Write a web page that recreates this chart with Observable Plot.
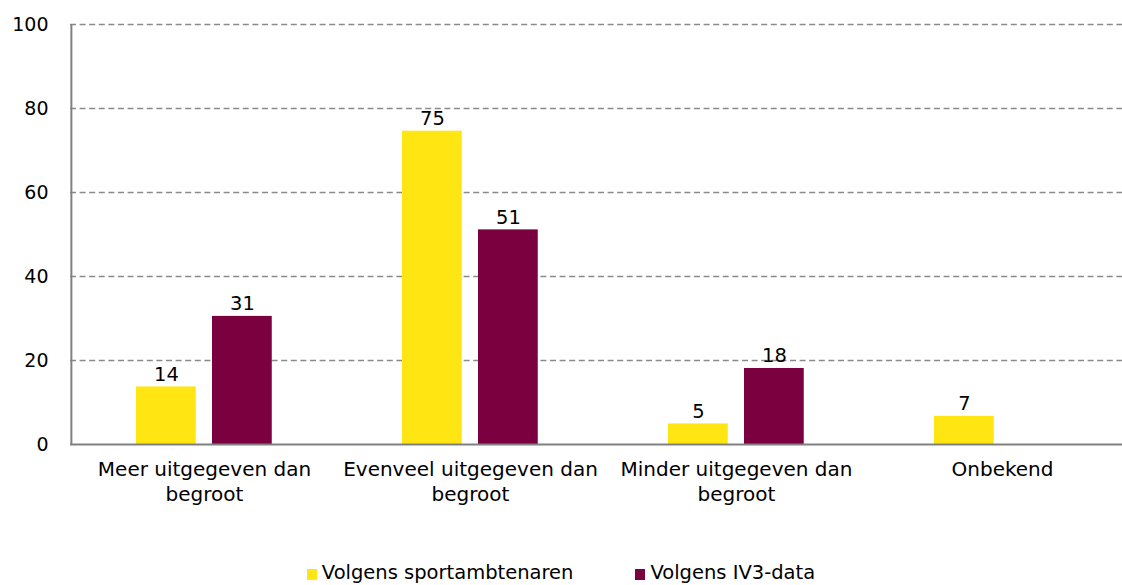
<!DOCTYPE html>
<html>
<head>
<meta charset="utf-8">
<script src="https://cdn.jsdelivr.net/npm/d3@7"></script>
<script src="https://cdn.jsdelivr.net/npm/@observablehq/plot@0.6"></script>
<style>
  html, body { margin: 0; padding: 0; background: #fff; }
  body { width: 1122px; height: 585px; overflow: hidden; font-family: "DejaVu Sans", sans-serif; }
  #legend { display: flex; justify-content: center; gap: 62px; margin-top: 42px; font-size: 19.5px; color: #000; line-height: 22px; padding-left: 0px; }
  #legend .item { display: flex; align-items: center; }
  #legend .sw { width: 10px; height: 11px; margin-right: 5px; margin-top: 2px; }
</style>
</head>
<body>
<div id="chart"></div>
<div id="legend"></div>
<script>
const categories = ["Meer uitgegeven dan begroot", "Evenveel uitgegeven dan begroot", "Minder uitgegeven dan begroot", "Onbekend"];
const categoryLabels = ["Meer uitgegeven dan\nbegroot", "Evenveel uitgegeven dan\nbegroot", "Minder uitgegeven dan\nbegroot", "Onbekend"];
const seriesNames = ["Volgens sportambtenaren", "Volgens IV3-data"];
const sportambtenaren = [13.7, 74.6, 4.9, 6.7];
const iv3 = [30.5, 51.1, 18.1, null];
const seriesColors = ["#FFE512", "#7A003F"];
const yTicks = [0, 20, 40, 60, 80, 100];

const rows = [];
categories.forEach((c, i) => {
  rows.push({category: c, series: seriesNames[0], value: sportambtenaren[i]});
  if (iv3[i] != null) rows.push({category: c, series: seriesNames[1], value: iv3[i]});
});
const s0 = rows.filter(d => d.series === seriesNames[0]);
const s1 = rows.filter(d => d.series === seriesNames[1]);
const labelOf = new Map(categories.map((c, i) => [c, categoryLabels[i]]));

const band = (1135 - 70) / categories.length;

const chart = Plot.plot({
  width: 1122,
  height: 520,
  marginLeft: 70,
  marginRight: 0,
  marginTop: 24,
  marginBottom: 76,
  style: {fontFamily: "DejaVu Sans, sans-serif", fontSize: "19.5px", color: "#000", background: "#fff"},
  x: {domain: categories, padding: 0, range: [70, 1135], axis: null, label: null},
  y: {domain: [0, 100], axis: null, label: null},
  marks: [
    Plot.ruleY(yTicks.filter(t => t > 0), {stroke: "#8a8a8a", strokeWidth: 1.5, strokeDasharray: "6,3.6"}),
    Plot.barY(s0, {x: "category", y: "value", fill: seriesColors[0], insetLeft: 65, insetRight: band - 125}),
    Plot.barY(s1, {x: "category", y: "value", fill: seriesColors[1], insetLeft: 141, insetRight: band - 201}),
    Plot.text(s0, {x: "category", y: "value", text: d => String(Math.round(d.value)), dx: 95 - band / 2, dy: -6, lineAnchor: "bottom", fill: "#000", fontSize: 19.5}),
    Plot.text(s1, {x: "category", y: "value", text: d => String(Math.round(d.value)), dx: 171 - band / 2, dy: -6, lineAnchor: "bottom", fill: "#000", fontSize: 19.5}),
    Plot.ruleY([0], {stroke: "#808080", strokeWidth: 2}),
    Plot.ruleX([categories[0]], {x: d => d, y1: 0, y2: 100, dx: -band / 2, stroke: "#808080", strokeWidth: 2}),
    Plot.axisY({ticks: yTicks, tickSize: 0, tickPadding: 22, fontSize: 19, fill: "#000", anchor: "left", label: null}),
    Plot.axisX({tickSize: 0, tickPadding: 14, tickFormat: d => labelOf.get(d), lineHeight: 1.25, fontSize: 20, fill: "#000", lineAnchor: "top", label: null})
  ]
});
document.getElementById("chart").appendChild(chart);

const legend = document.getElementById("legend");
seriesNames.forEach((n, i) => {
  const item = document.createElement("div");
  item.className = "item";
  const sw = document.createElement("span");
  sw.className = "sw";
  sw.style.background = seriesColors[i];
  const t = document.createElement("span");
  t.textContent = n;
  item.appendChild(sw);
  item.appendChild(t);
  legend.appendChild(item);
});
</script>
</body>
</html>
